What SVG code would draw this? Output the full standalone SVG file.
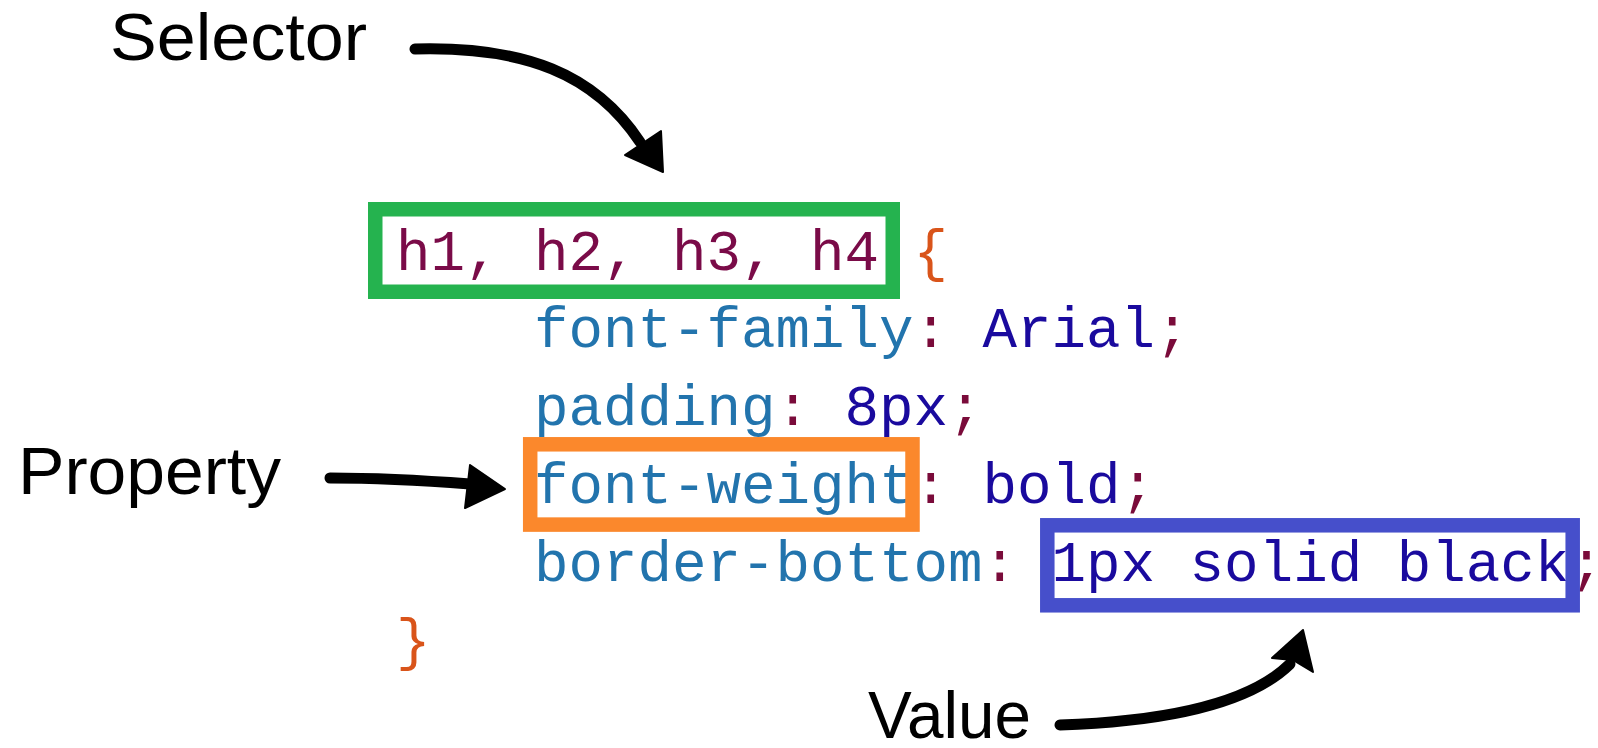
<svg xmlns="http://www.w3.org/2000/svg" width="1598" height="748" viewBox="0 0 1598 748">
  <style>
    .label { font-family: "Liberation Sans", Arial, sans-serif; font-size: 66px; fill: #000; }
    .code { font-family: "Liberation Mono", "Courier New", monospace; font-size: 57.5px; white-space: pre; }
    .sel { fill: #7a0b48; }
    .brace { fill: #d9541a; }
    .prop { fill: #2274ad; }
    .punc { fill: #7a0b3a; }
    .val { fill: #1a0a9e; }
    .box { fill: none; stroke-width: 14.5; }
    .arrow-line { fill: none; stroke: #000; stroke-width: 11; stroke-linecap: round; }
    .arrow-head { fill: #000; stroke: #000; stroke-width: 2; stroke-linejoin: round; }
  </style>
  <rect width="1598" height="748" fill="#ffffff"/>

  <!-- Stylesheet rule -->
  <g id="code">
    <text class="code" x="396" y="270"><tspan class="sel">h1, h2, h3, h4</tspan><tspan class="brace"> {</tspan></text>
    <text class="code" x="534" y="347"><tspan class="prop">font-family</tspan><tspan class="punc">: </tspan><tspan class="val">Arial</tspan><tspan class="punc">;</tspan></text>
    <text class="code" x="534" y="425"><tspan class="prop">padding</tspan><tspan class="punc">: </tspan><tspan class="val">8px</tspan><tspan class="punc">;</tspan></text>
    <text class="code" x="534" y="503"><tspan class="prop">font-weight</tspan><tspan class="punc">: </tspan><tspan class="val">bold</tspan><tspan class="punc">;</tspan></text>
    <text class="code" x="534" y="581"><tspan class="prop">border-bottom</tspan><tspan class="punc">: </tspan><tspan class="val">1px solid black</tspan><tspan class="punc">;</tspan></text>
    <text class="code brace" x="396" y="659">}</text>
  </g>

  <!-- Highlight frames -->
  <g id="selector-box">
    <rect class="box" x="375.25" y="209.25" width="517.5" height="82.5" stroke="#25b34f"/>
  </g>
  <g id="property-box">
    <rect class="box" x="530.2" y="444.3" width="382.3" height="80.3" stroke="#fb882c"/>
  </g>
  <g id="value-box">
    <rect class="box" x="1047.3" y="525.3" width="525.4" height="80" stroke="#464fcb"/>
  </g>

  <!-- Callout labels -->
  <g id="selector-label">
    <text class="label" x="110" y="60" textLength="257" lengthAdjust="spacingAndGlyphs">Selector</text>
  </g>
  <g id="property-label">
    <text class="label" x="18" y="494" textLength="263" lengthAdjust="spacingAndGlyphs">Property</text>
  </g>
  <g id="value-label">
    <text class="label" x="868" y="738" textLength="163" lengthAdjust="spacingAndGlyphs">Value</text>
  </g>

  <!-- Pointer arrows -->
  <g id="connectors">
    <path class="arrow-line" d="M415,49 C525,46 595,74 640,142"/>
    <polygon class="arrow-head" points="625,155 661,131 663,172"/>

    <path class="arrow-line" d="M330,478 C380,478 430,481 470,484"/>
    <polygon class="arrow-head" points="470,465 505,489 465,508"/>

    <path class="arrow-line" d="M1060,725 C1150,722 1245,708 1290,664"/>
    <polygon class="arrow-head" points="1272,658 1303,630 1313,672 1293,660"/>
  </g>
</svg>
